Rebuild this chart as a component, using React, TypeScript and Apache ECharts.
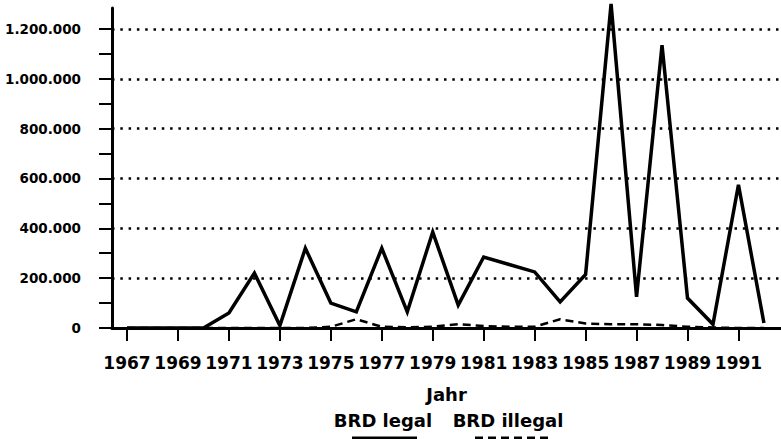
import React, { useEffect, useRef } from "react";
import * as echarts from "echarts";

const years = [1967,1968,1969,1970,1971,1972,1973,1974,1975,1976,1977,1978,1979,1980,1981,1982,1983,1984,1985,1986,1987,1988,1989,1990,1991,1992];
const legal = [0,0,0,0,60000,220000,10000,320000,100000,65000,320000,65000,385000,92000,285000,255000,225000,105000,215000,1300000,125000,1135000,120000,15000,575000,20000];
const illegal = [0,0,0,0,0,0,0,0,5000,35000,5000,3000,5000,15000,8000,5000,5000,35000,18000,15000,15000,12000,5000,2000,0,0];
const seriesNames = ["BRD legal", "BRD illegal"];
const xTickYears = [1967,1969,1971,1973,1975,1977,1979,1981,1983,1985,1987,1989,1991];
const yLabelValues = [0,200000,400000,600000,800000,1000000,1200000];
const yTickValues = [0,100000,200000,300000,400000,500000,600000,700000,800000,900000,1000000,1100000,1200000];
const gridValues = [200000,400000,600000,800000,1000000,1200000];
const xAxisName = "Jahr";

const FONT = "DejaVu Sans";

function fmt(v: number): string {
  return String(Math.round(v)).replace(/\B(?=(\d{3})+(?!\d))/g, ".");
}

export default function App() {
  const ref = useRef<HTMLDivElement>(null);
  useEffect(() => {
    if (!ref.current) return;
    const chart = echarts.init(ref.current, undefined, { renderer: "svg" });
    chart.setOption({
      animation: false,
      backgroundColor: "#fff",
      grid: { left: 112, right: 0, top: 8, bottom: 111, containLabel: false },
      xAxis: {
        type: "value",
        min: 1966.41,
        max: 1992.67,
        name: xAxisName,
        nameLocation: "middle",
        nameGap: 57,
        nameTextStyle: { color: "#000", fontFamily: FONT, fontWeight: "bold", fontSize: 18 },
        axisLine: { show: true, lineStyle: { color: "#000", width: 3 } },
        axisTick: { show: true, length: 13, lineStyle: { color: "#000", width: 2 }, customValues: xTickYears },
        axisLabel: { color: "#000", fontFamily: FONT, fontWeight: "bold", fontSize: 17, margin: 26, customValues: xTickYears, formatter: (v: number) => String(v) },
        splitLine: { show: false },
      },
      yAxis: {
        type: "value",
        min: 0,
        max: 1284000,
        axisLine: { show: true, lineStyle: { color: "#000", width: 3 } },
        axisTick: { show: true, length: 13, lineStyle: { color: "#000", width: 2 }, customValues: yTickValues },
        axisLabel: { color: "#000", fontFamily: FONT, fontWeight: "bold", fontSize: 13.5, margin: 31, customValues: yLabelValues, formatter: (v: number) => fmt(v) },
        splitLine: { show: false },
      },
      series: [
        {
          name: seriesNames[1],
          type: "line",
          data: years.map((y, i) => [y, illegal[i]]),
          symbol: "none",
          clip: false,
          z: 3,
          lineStyle: { color: "#000", width: 2.5, type: [8, 5] },
          markLine: {
            silent: true,
            symbol: "none",
            label: { show: false },
            lineStyle: { color: "#000", width: 2.5, type: [2.5, 5.8] },
            data: gridValues.map((v) => ({ yAxis: v })),
          },
        },
        {
          name: seriesNames[0],
          type: "line",
          data: years.map((y, i) => [y, legal[i]]),
          symbol: "none",
          clip: false,
          z: 4,
          lineStyle: { color: "#000", width: 3.5, join: "miter" },
        },
      ],
      graphic: [
        { type: "text", x: 383, y: 420, style: { text: seriesNames[0], fill: "#000", font: `bold 18px "${FONT}"`, textAlign: "center", textVerticalAlign: "middle" } },
        { type: "text", x: 508, y: 420, style: { text: seriesNames[1], fill: "#000", font: `bold 18px "${FONT}"`, textAlign: "center", textVerticalAlign: "middle" } },
        { type: "line", shape: { x1: 352, y1: 438, x2: 417, y2: 438 }, style: { stroke: "#000", lineWidth: 3 } },
        { type: "line", shape: { x1: 475, y1: 438, x2: 548, y2: 438 }, style: { stroke: "#000", lineWidth: 3, lineDash: [8, 5] } },
      ],
    });
    return () => chart.dispose();
  }, []);
  return <div ref={ref} style={{ position: "fixed", left: 0, top: 0, width: 781, height: 439 }} />;
}
